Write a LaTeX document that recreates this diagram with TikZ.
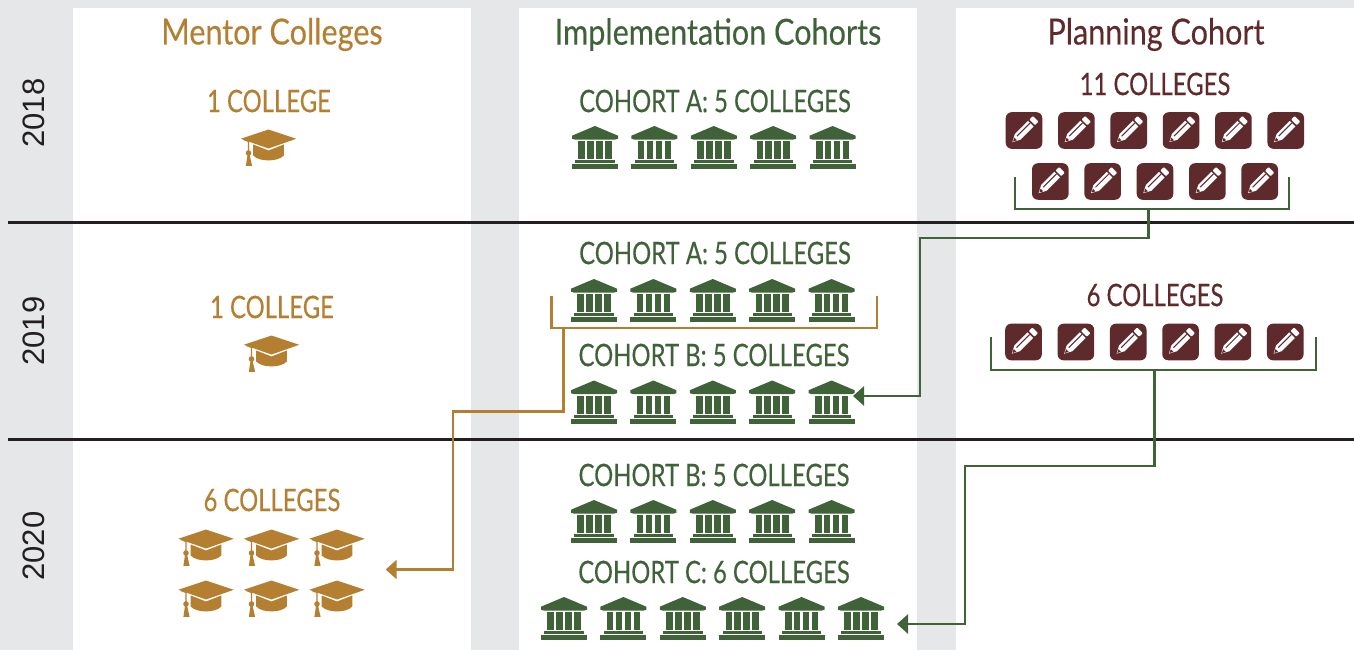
\documentclass[tikz,border=0pt]{standalone}
\usepackage{fontspec}
\setmainfont{Lato}
\newfontfamily\titlefont{Lato}[FakeStretch=0.85,FakeBold=0.25]
\newfontfamily\labelfont{Lato}[FakeStretch=0.77,FakeBold=0.25]
\newfontfamily\yearfont{Liberation Sans}
\usetikzlibrary{arrows.meta}
\definecolor{bgGray}{HTML}{E6E7E9}
\definecolor{gold}{HTML}{B57F32}
\definecolor{forest}{HTML}{3F6239}
\definecolor{maroon}{HTML}{5F2A2C}
\definecolor{ink}{HTML}{231F20}
\tikzset{
  title/.style={font=\titlefont\fontsize{36}{36}\selectfont,anchor=center,inner sep=0pt},
  lab/.style={font=\labelfont\fontsize{31}{31}\selectfont,anchor=center,inner sep=0pt},
  year/.style={font=\yearfont\fontsize{31}{31}\selectfont,text=ink,rotate=90,anchor=center,inner sep=0pt},
  conn/.style={line width=2.8pt,miter limit=10},
  arrowconn/.style={conn,-{Triangle[length=11pt,width=19pt]}},
  divider/.style={ink,line width=3pt},
  hat/.pic={
    \fill[gold] (0,-18)--(27.7,-8.7)--(0,1)--(-27.7,-8.7)--cycle;
    \fill[gold] (-15.3,-3)--(0,3)--(15.3,-3)--(15.3,8) .. controls (12,11.5) and (6,12.9) .. (0,12.9) .. controls (-6,12.9) and (-12,11.5) .. (-15.3,8)--cycle;
    \draw[gold,line width=1.2pt] (-25,-8) -- (-20,-6) -- (-20,5);
    \fill[gold] (-20,5.5) circle (2.8);
    \fill[gold] (-20.8,6)--(-19.2,6)--(-16.4,18.3)--(-22.6,18.3)--cycle;
  },
  bank/.pic={
    \fill[forest] (-23,-11.8)--(0,-21.5)--(23,-11.8)--(23,-8.8)--(19.7,-7.8)--(-19.7,-7.8)--(-23,-8.8)--cycle;
    \foreach \a/\b in {-16.7/-10.1,-7.8/-1.2,1.2/7.8,10.1/16.7}
      \fill[forest] (\a,-6.3) rectangle (\b,11.7);
    \fill[forest] (-19.7,12.5) rectangle (19.7,15.5);
    \fill[forest] (-23,16.5) rectangle (23,21.5);
  },
  pencilbox/.pic={
    \fill[maroon,rounded corners=6pt] (-18.3,-18.3) rectangle (18.3,18.3);
    \begin{scope}[rotate=45]
      \fill[white,rounded corners=0.8pt] (11.5,-4) rectangle (16.5,4);
      \fill[white] (9.7,-4)--(-9,-4)--(-16.5,0)--(-9,4)--(9.7,4)--cycle;
      \draw[maroon,line width=1pt] (-9,-1)--(9.7,-1);
      \fill[maroon] (-15.5,0)--(-12,-1.9)--(-12,1.9)--cycle;
    \end{scope}
  },
}
\begin{document}
\begin{tikzpicture}[x=1pt,y=-1pt]
\useasboundingbox (0,0) rectangle (1354,650);
\fill[bgGray] (0,0) rectangle (1354,650);
\fill[white] (73,8) rectangle (471,650);
\fill[white] (519,8) rectangle (917,650);
\fill[white] (956,8) rectangle (1354,650);

% headers
\node[title,text=gold] (hM) at (272,34.5) {Mentor Colleges};
\node[title,text=forest] (hI) at (718,34.5) {Implementation Cohorts};
\node[title,text=maroon] (hP) at (1156,34.5) {Planning Cohort};

% years
\node[year] (y18) at (33.5,113) {2018};
\node[year] (y19) at (33.5,331) {2019};
\node[year] (y20) at (33.5,546) {2020};

% labels
\node[lab,text=gold] (m18) at (269,101) {1 COLLEGE};
\node[lab,text=gold] (m19) at (272,307) {1 COLLEGE};
\node[lab,text=gold] (m20) at (272,500) {6 COLLEGES};
\node[lab,text=forest] (a18) at (715,101) {COHORT A: 5 COLLEGES};
\node[lab,text=forest] (a19) at (715,253) {COHORT A: 5 COLLEGES};
\node[lab,text=forest] (b19) at (714,355) {COHORT B: 5 COLLEGES};
\node[lab,text=forest] (b20) at (714,475) {COHORT B: 5 COLLEGES};
\node[lab,text=forest] (c20) at (714,572) {COHORT C: 6 COLLEGES};
\node[lab,text=maroon] (p18) at (1155,84) {11 COLLEGES};
\node[lab,text=maroon] (p19) at (1155,295) {6 COLLEGES};

% hats
\pic at (268.5,147.5) {hat};
\pic at (271.5,353.5) {hat};
\foreach \x in {206,271.5,337} {
  \pic at (\x,547.5) {hat};
  \pic at (\x,598.5) {hat};
}
% banks
\foreach \i in {0,...,4} {
  \pic at ({595+59.4*\i},147.5) {bank};
  \pic at ({594+59.4*\i},300.5) {bank};
  \pic at ({594+59.4*\i},402) {bank};
  \pic at ({594+59.4*\i},521.5) {bank};
}
\foreach \i in {0,...,5} \pic at ({564+59.4*\i},618.5) {bank};
% pencils
\foreach \i in {0,...,5} {
  \pic at ({1024+52.35*\i},130.5) {pencilbox};
  \pic at ({1023.5+52.35*\i},342) {pencilbox};
}
\foreach \i in {0,...,4} \pic at ({1050.3+52.35*\i},181.5) {pencilbox};

% dividers
\coordinate (dl1) at (8,222); \coordinate (dr1) at (1354,222);
\coordinate (dl2) at (8,439); \coordinate (dr2) at (1354,439);
\draw[divider] (dl1) -- (dr1);
\draw[divider] (dl2) -- (dr2);

% connectors
\coordinate (gAl) at (1015,177); \coordinate (gAr) at (1289,177);
\coordinate (gAs) at (1148.3,209); \coordinate (gAe) at (853,396);
\draw[conn,forest] (gAl) |- (gAr |- gAs) -- (gAr);
\draw[arrowconn,forest] (gAs) |- (920,238) |- (gAe);

\coordinate (oAl) at (551.7,296); \coordinate (oAr) at (877,296);
\coordinate (oAs) at (563.5,328); \coordinate (oAe) at (385.7,569.5);
\draw[conn,gold] (oAl) |- (oAr |- oAs) -- (oAr);
\draw[arrowconn,gold] (oAs) |- (453,411.7) |- (oAe);

\coordinate (gBl) at (991,337); \coordinate (gBr) at (1316,337);
\coordinate (gBs) at (1154.5,370); \coordinate (gBe) at (897,624);
\draw[conn,forest] (gBl) |- (gBr |- gBs) -- (gBr);
\draw[arrowconn,forest] (gBs) |- (965,466) |- (gBe);
\end{tikzpicture}
\end{document}
